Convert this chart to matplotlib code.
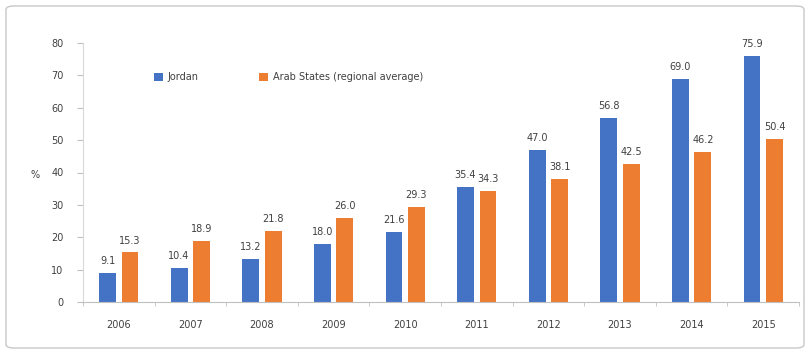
import numpy as np
import matplotlib.pyplot as plt
from matplotlib.patches import FancyBboxPatch

years = ['2006', '2007', '2008', '2009', '2010', '2011', '2012', '2013', '2014', '2015']
jordan = [9.1, 10.4, 13.2, 18.0, 21.6, 35.4, 47.0, 56.8, 69.0, 75.9]
arab_states = [15.3, 18.9, 21.8, 26.0, 29.3, 34.3, 38.1, 42.5, 46.2, 50.4]

blue = '#4472C4'
orange = '#ED7D31'
text_col = '#404040'

fig = plt.figure(figsize=(8.08, 3.53), dpi=100)

# Light frame around the whole chart
frame = FancyBboxPatch((6 / 808, 5 / 353), 798 / 808, 342 / 353,
                       boxstyle='round,pad=0,rounding_size=0.01',
                       transform=fig.transFigure, facecolor='none',
                       edgecolor='#c8c8c8', linewidth=1.0, zorder=-5)
fig.patches.append(frame)

ax = fig.add_axes([83 / 808, 1 - 302 / 353, 716 / 808, 259 / 353])
ax.set_facecolor('none')

x = np.arange(len(years))
w = 0.235
gap = 0.08
b1 = ax.bar(x - (w + gap) / 2, jordan, w, color=blue, label='Jordan')
b2 = ax.bar(x + (w + gap) / 2, arab_states, w, color=orange,
            label='Arab States (regional average)')

for bars, vals in ((b1, jordan), (b2, arab_states)):
    for rect, v in zip(bars, vals):
        ax.annotate(f'{v:.1f}', (rect.get_x() + rect.get_width() / 2, v),
                    xytext=(0, 5), textcoords='offset points',
                    ha='center', va='bottom', fontsize=7, color=text_col)

ax.set_xlim(-0.5, len(years) - 0.5)
ax.set_ylim(0, 80)
ax.set_yticks(range(0, 81, 10))
ax.set_xticks(x)
ax.set_xticklabels(years)
ax.set_xticks(np.arange(-0.5, len(years), 1), minor=True)

for s in ('top', 'right'):
    ax.spines[s].set_visible(False)
ax.spines['left'].set_color('#d9d9d9')
ax.spines['bottom'].set_color('#bfbfbf')

ax.tick_params(axis='y', labelsize=7, colors=text_col, length=4, pad=10,
               color='#bfbfbf')
ax.tick_params(axis='x', which='major', labelsize=7, colors=text_col,
               length=0, pad=13)
ax.tick_params(axis='x', which='minor', length=3, color='#bfbfbf')

fig.text(35 / 808, 1 - 175 / 353, '%', fontsize=7, color=text_col,
         ha='center', va='center')

ax.legend(loc='center left', bbox_to_anchor=(0.087, 0.868), ncol=2,
          frameon=False, fontsize=7, handlelength=0.9, handleheight=0.9,
          columnspacing=6.2, handletextpad=0.5, labelcolor=text_col)

fig.savefig('out.png', dpi=100)
